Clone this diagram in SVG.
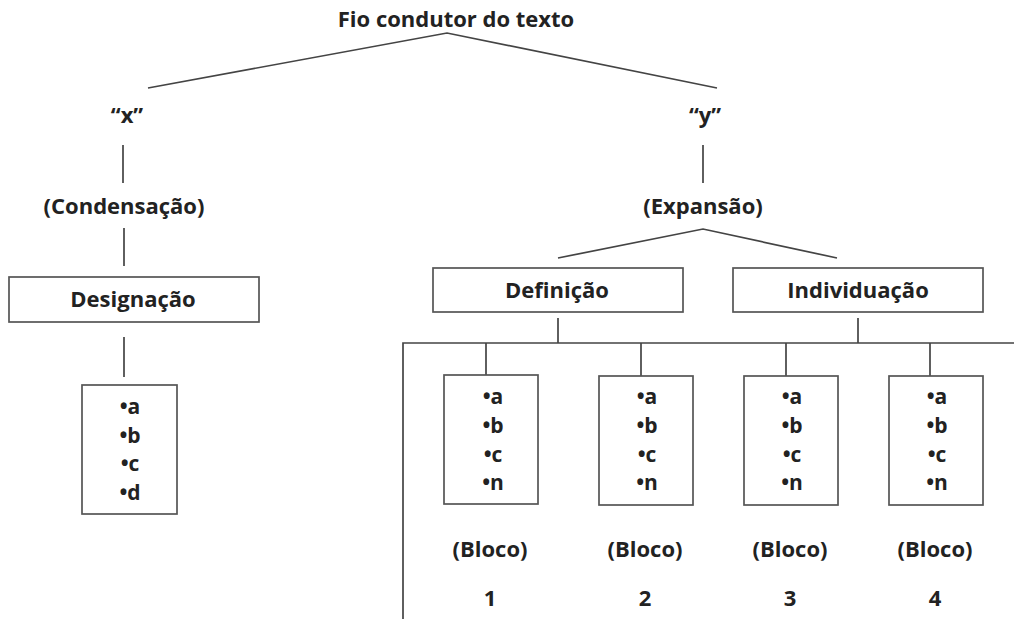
<svg xmlns="http://www.w3.org/2000/svg" width="1014" height="619" viewBox="0 0 1014 619">
<style>
text{font-family:"Open Sans","Liberation Sans",sans-serif;font-weight:bold;fill:#222;text-anchor:middle}
.t{font-size:22px}
.b{font-size:21px}
.box{fill:#fff;stroke:#555;stroke-width:1.7}
.ln{stroke:#444;stroke-width:1.7;fill:none}
</style>
<rect width="1014" height="619" fill="#fff"/>
<g id="connectors">
<polyline class="ln" points="148,88 447,33 717,88"/>
<line class="ln" x1="123" y1="145" x2="123" y2="183"/>
<line class="ln" x1="124" y1="228" x2="124" y2="266"/>
<line class="ln" x1="124" y1="337" x2="124" y2="377"/>
<line class="ln" x1="703" y1="145" x2="703" y2="183"/>
<polyline class="ln" points="558,258 703,229 837,258"/>
<line class="ln" x1="558" y1="318" x2="558" y2="343"/>
<line class="ln" x1="858" y1="318" x2="858" y2="343"/>
<polyline class="ln" points="403,619 403,343 1014,343"/>
<line class="ln" x1="486" y1="343" x2="486" y2="375"/>
<line class="ln" x1="641" y1="343" x2="641" y2="376"/>
<line class="ln" x1="786" y1="343" x2="786" y2="376"/>
<line class="ln" x1="930" y1="343" x2="930" y2="376"/>
</g>
<g id="root"><text class="t" x="456" y="27">Fio condutor do texto</text></g>
<g id="x"><text class="t" x="127" y="123">“x”</text></g>
<g id="y"><text class="t" x="705" y="123">“y”</text></g>
<g id="condensacao"><text class="t" x="124" y="214">(Condensação)</text></g>
<g id="expansao"><text class="t" x="703" y="214">(Expansão)</text></g>
<g id="designacao"><rect class="box" x="9" y="277" width="250" height="45"/><text class="t" x="133" y="307">Designação</text></g>
<g id="definicao"><rect class="box" x="433" y="268" width="250" height="44"/><text class="t" x="557" y="298">Definição</text></g>
<g id="individuacao"><rect class="box" x="733" y="268" width="250" height="44"/><text class="t" x="858" y="298">Individuação</text></g>
<g id="list-x"><rect class="box" x="82" y="385" width="95" height="129"/>
<text class="b" x="130" y="414">•a</text><text class="b" x="130" y="443">•b</text><text class="b" x="130" y="471">•c</text><text class="b" x="130" y="500">•d</text></g>
<g id="bloco1"><rect class="box" x="444" y="375" width="94" height="129"/>
<text class="b" x="493" y="404">•a</text><text class="b" x="493" y="433">•b</text><text class="b" x="493" y="462">•c</text><text class="b" x="493" y="490">•n</text>
<text class="t" x="490" y="557">(Bloco)</text><text class="t" x="490" y="606">1</text></g>
<g id="bloco2"><rect class="box" x="599" y="376" width="94" height="129"/>
<text class="b" x="647" y="404">•a</text><text class="b" x="647" y="433">•b</text><text class="b" x="647" y="462">•c</text><text class="b" x="647" y="490">•n</text>
<text class="t" x="645" y="557">(Bloco)</text><text class="t" x="645" y="606">2</text></g>
<g id="bloco3"><rect class="box" x="744" y="376" width="94" height="129"/>
<text class="b" x="792" y="404">•a</text><text class="b" x="792" y="433">•b</text><text class="b" x="792" y="462">•c</text><text class="b" x="792" y="490">•n</text>
<text class="t" x="790" y="557">(Bloco)</text><text class="t" x="790" y="606">3</text></g>
<g id="bloco4"><rect class="box" x="889" y="376" width="94" height="129"/>
<text class="b" x="937" y="404">•a</text><text class="b" x="937" y="433">•b</text><text class="b" x="937" y="462">•c</text><text class="b" x="937" y="490">•n</text>
<text class="t" x="935" y="557">(Bloco)</text><text class="t" x="935" y="606">4</text></g>
</svg>
